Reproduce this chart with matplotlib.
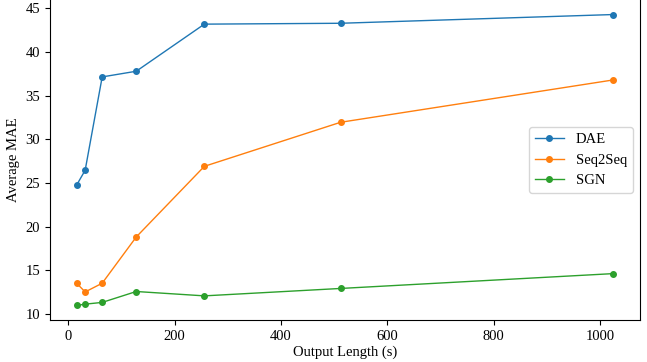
import matplotlib
matplotlib.use('Agg')
from matplotlib import pyplot as plt

plt.rcParams['font.family'] = ['Liberation Serif', 'DejaVu Serif']
plt.rcParams['font.size'] = 10.5

output_len = [16, 32, 64, 128, 256, 512, 1024]
dae = [24.75, 26.45, 37.15, 37.8, 43.2, 43.3, 44.3]
seq2seq = [13.5, 12.5, 13.5, 18.8, 26.9, 31.95, 36.8]
sgn = [10.95, 11.1, 11.3, 12.55, 12.05, 12.9, 14.6]

fig = plt.figure(figsize=(6.47, 3.62), dpi=100)
ax = fig.add_axes([0.077, 0.116, 0.912, 0.884])
ax.plot(output_len, dae, marker='o', markersize=4, linewidth=1, label='DAE')
ax.plot(output_len, seq2seq, marker='o', markersize=4, linewidth=1, label='Seq2Seq')
ax.plot(output_len, sgn, marker='o', markersize=4, linewidth=1, label='SGN')
ax.set_xlabel('Output Length (s)', labelpad=2)
ax.set_ylabel('Average MAE', labelpad=4)
ax.spines['top'].set_visible(False)
ax.legend(loc='center right')
fig.savefig('out.png', dpi=100)
